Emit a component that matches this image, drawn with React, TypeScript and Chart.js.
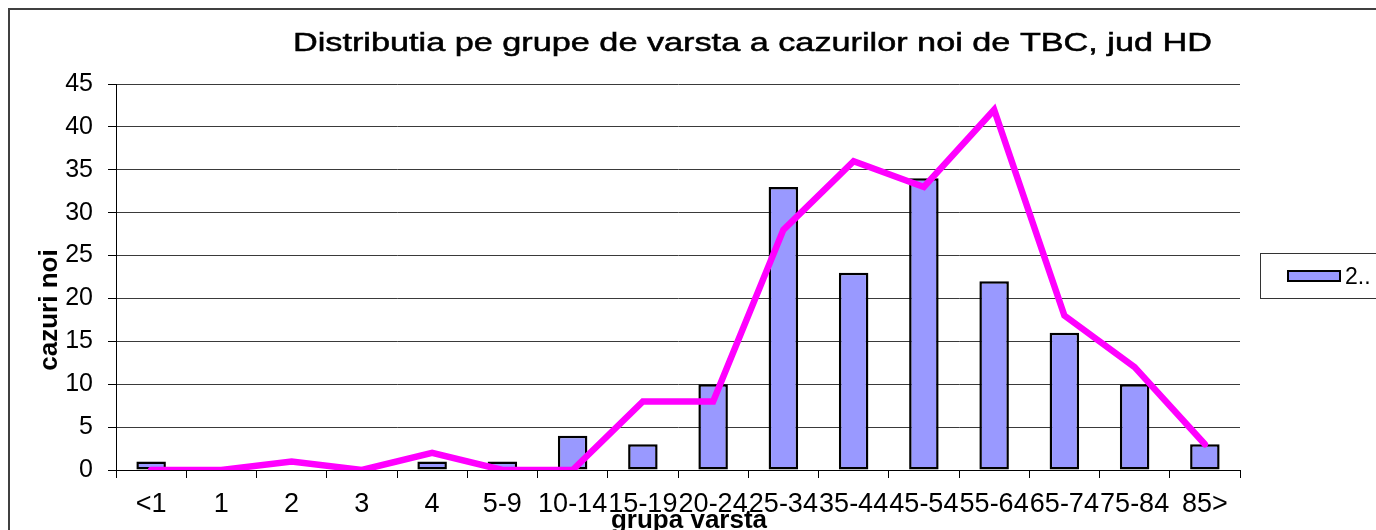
import React, { useEffect, useRef } from 'react';
import { Chart, registerables } from 'chart.js';

Chart.register(...registerables);

const chartTitle = 'Distributia pe grupe de varsta a cazurilor noi de TBC, jud HD';
const xAxisTitle = 'grupa varsta';
const yAxisTitle = 'cazuri noi';
const seriesLabel = '2..';
const lineLabel = 'tendinta';

const categories = ['<1', '1', '2', '3', '4', '5-9', '10-14', '15-19', '20-24', '25-34', '35-44', '45-54', '55-64', '65-74', '75-84', '85>'];
const barValues = [1, 0, 0, 0, 1, 1, 4, 3, 10, 33, 23, 34, 22, 16, 10, 3];
const lineValues = [0, 0, 1, 0, 2, 0, 0, 8, 8, 28, 36, 33, 42, 18, 12, 3];

const yMin = 0;
const yMax = 45;
const yStep = 5;

const FONT = '"Liberation Sans", Arial, Helvetica, sans-serif';
const BAR_FILL = '#9999FF';
const LINE_COLOR = '#FF00FF';

export default function App() {
  const ref = useRef<HTMLCanvasElement>(null);

  useEffect(() => {
    const canvas = ref.current;
    if (!canvas) return;

    const decor = {
      id: 'decor',
      beforeDraw(chart: any) {
        const ctx = chart.ctx;
        ctx.save();
        ctx.fillStyle = '#ffffff';
        ctx.fillRect(0, 0, chart.width, chart.height);
        // outer frame (left and top visible)
        ctx.strokeStyle = '#404040';
        ctx.lineWidth = 2;
        ctx.beginPath();
        ctx.moveTo(9, chart.height + 2);
        ctx.lineTo(9, 9);
        ctx.lineTo(chart.width + 2, 9);
        ctx.stroke();
        ctx.restore();
      },
      afterDraw(chart: any) {
        const ctx = chart.ctx;
        ctx.save();
        ctx.fillStyle = '#000';

        // Title (stretched horizontally like the source)
        ctx.font = `25px ${FONT}`;
        ctx.textAlign = 'left';
        ctx.textBaseline = 'alphabetic';
        const w = ctx.measureText(chartTitle).width;
        const targetW = 919;
        ctx.save();
        ctx.translate(293, 51);
        ctx.scale(targetW / w, 1);
        ctx.fillText(chartTitle, 0, 0);
        ctx.strokeStyle = '#000';
        ctx.lineWidth = 0.5;
        ctx.strokeText(chartTitle, 0, 0);
        ctx.restore();

        // Y axis title
        ctx.font = `bold 26px ${FONT}`;
        ctx.textAlign = 'center';
        ctx.save();
        ctx.translate(57, 310);
        ctx.rotate(-Math.PI / 2);
        ctx.fillText(yAxisTitle, 0, 0);
        ctx.restore();

        // X axis title
        ctx.font = `bold 26px ${FONT}`;
        ctx.textAlign = 'center';
        ctx.fillText(xAxisTitle, 689, 528);

        // Legend
        ctx.strokeStyle = '#333';
        ctx.lineWidth = 1;
        ctx.strokeRect(1260.5, 253.5, 200, 45);
        ctx.fillStyle = BAR_FILL;
        ctx.fillRect(1288, 271, 52, 10);
        ctx.strokeStyle = '#000';
        ctx.lineWidth = 2;
        ctx.strokeRect(1288, 271, 52, 10);
        ctx.fillStyle = '#000';
        ctx.font = `23px ${FONT}`;
        ctx.textAlign = 'left';
        ctx.fillText(seriesLabel, 1345, 284);

        ctx.restore();
      },
    };

    const chart = new Chart(canvas, {
      type: 'bar',
      data: {
        labels: categories,
        datasets: [
          {
            type: 'line',
            label: lineLabel,
            data: lineValues,
            borderColor: LINE_COLOR,
            backgroundColor: LINE_COLOR,
            borderWidth: 6.5,
            pointRadius: 0,
            pointHoverRadius: 0,
            tension: 0,
            borderCapStyle: 'round',
            borderJoinStyle: 'miter',
            fill: false,
            order: 0,
          } as any,
          {
            type: 'bar',
            label: seriesLabel,
            data: barValues,
            backgroundColor: BAR_FILL,
            borderColor: '#000',
            borderWidth: 2.5,
            borderSkipped: false,
            barPercentage: 0.42,
            categoryPercentage: 1,
            order: 1,
          } as any,
        ],
      },
      options: {
        responsive: false,
        animation: false,
        devicePixelRatio: 1,
        layout: { padding: { left: 10, top: 84, right: 136, bottom: 0 } },
        plugins: {
          legend: { display: false },
          title: { display: false },
          tooltip: { enabled: false },
        },
        scales: {
          x: {
            type: 'category',
            offset: true,
            afterFit: (s: any) => { s.height = 60; },
            grid: {
              display: true,
              drawOnChartArea: false,
              drawTicks: true,
              tickLength: 8,
              offset: true,
              color: '#000',
              lineWidth: 1,
            },
            border: { display: true, color: '#000', width: 1 },
            ticks: {
              autoSkip: false,
              maxRotation: 0,
              minRotation: 0,
              padding: 10,
              color: '#000',
              font: { family: FONT, size: 27 },
            },
          },
          y: {
            min: yMin,
            max: yMax,
            afterFit: (s: any) => { s.width = 106; },
            grid: {
              color: '#3a3a3a',
              lineWidth: 1,
              drawTicks: true,
              tickLength: 8,
              tickColor: '#000',
            },
            border: { display: true, color: '#000', width: 1 },
            ticks: {
              stepSize: yStep,
              padding: 15,
              color: '#000',
              font: { family: FONT, size: 25 },
            },
          },
        },
      },
      plugins: [decor],
    });

    return () => chart.destroy();
  }, []);

  return (
    <div style={{ position: 'fixed', left: 0, top: 0, width: 1376, height: 530, background: '#fff', overflow: 'hidden' }}>
      <canvas ref={ref} width={1376} height={530} style={{ display: 'block', width: 1376, height: 530 }} />
    </div>
  );
}
